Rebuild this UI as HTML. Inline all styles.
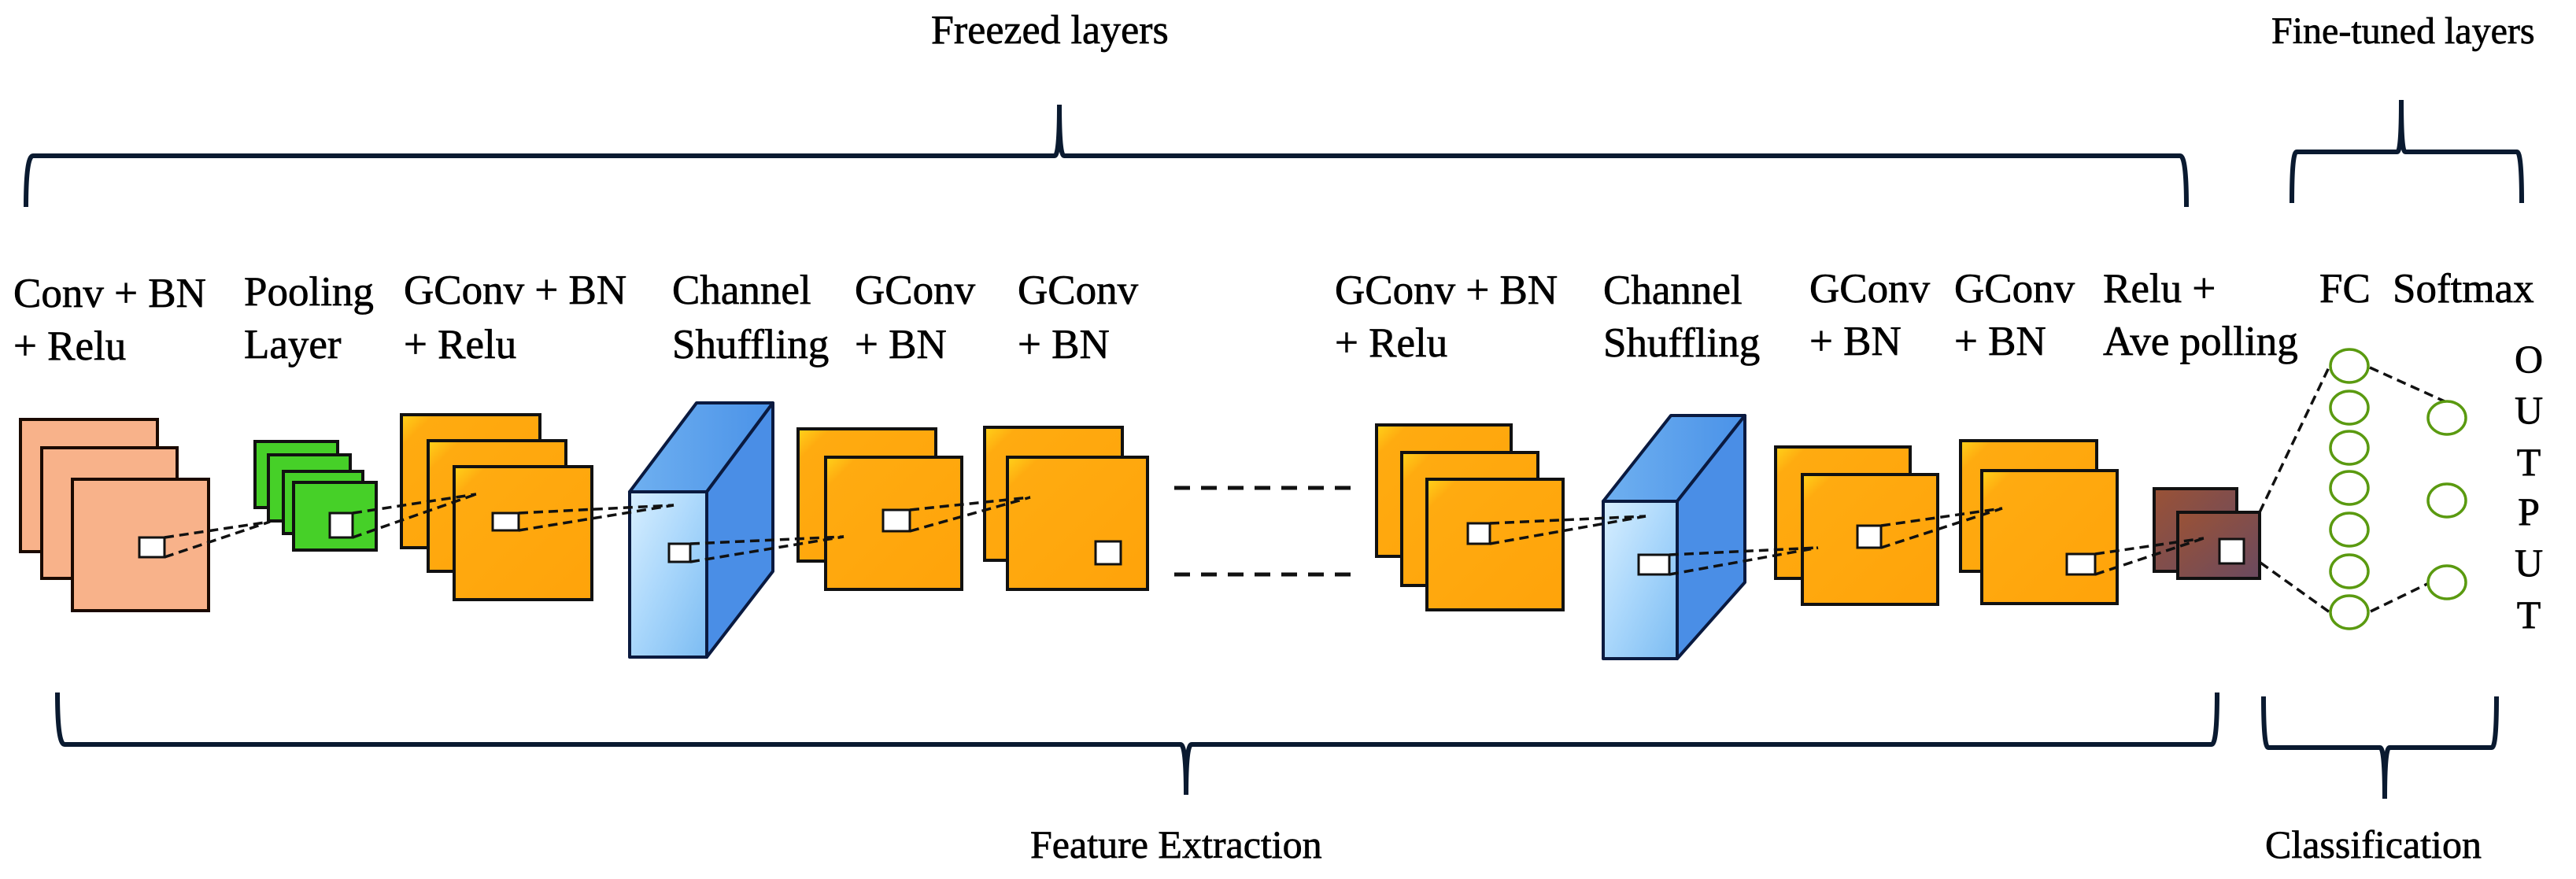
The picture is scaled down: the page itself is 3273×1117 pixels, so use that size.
<!DOCTYPE html>
<html><head><meta charset="utf-8"><style>
html,body{margin:0;padding:0;background:#fff;}
svg{display:block;}
text{font-family:"Liberation Serif",serif;fill:#000;stroke:#000;stroke-width:0.7px;}
</style></head><body>
<svg width="3273" height="1117" viewBox="0 0 3273 1117" xmlns="http://www.w3.org/2000/svg">
<defs>
<linearGradient id="or" x1="0" y1="0" x2="1" y2="1"><stop offset="0" stop-color="#ffd21a"/><stop offset="0.12" stop-color="#ffab10"/><stop offset="1" stop-color="#ffa30a"/></linearGradient>
<linearGradient id="bf" x1="0" y1="0" x2="1" y2="1"><stop offset="0" stop-color="#d8efff"/><stop offset="0.5" stop-color="#a8d6fb"/><stop offset="1" stop-color="#7cbcf2"/></linearGradient>
<linearGradient id="bt" x1="0" y1="0" x2="1" y2="0"><stop offset="0" stop-color="#6fb0f0"/><stop offset="1" stop-color="#4a92e8"/></linearGradient>
<linearGradient id="br" x1="0" y1="0" x2="1" y2="1"><stop offset="0" stop-color="#9a5236"/><stop offset="1" stop-color="#6a4a60"/></linearGradient>
</defs>

<!-- labels -->
<g font-size="53">
<text x="1183" y="55" font-size="52">Freezed layers</text>
<text x="2886" y="55" font-size="48">Fine-tuned layers</text>
<text x="17" y="390">Conv + BN</text><text x="17" y="457">+ Relu</text>
<text x="310" y="388">Pooling</text><text x="310" y="455">Layer</text>
<text x="513" y="386">GConv + BN</text><text x="513" y="455">+ Relu</text>
<text x="854" y="386">Channel</text><text x="854" y="455">Shuffling</text>
<text x="1086" y="386">GConv</text><text x="1086" y="455">+ BN</text>
<text x="1293" y="386">GConv</text><text x="1293" y="455">+ BN</text>
<text x="1696" y="386">GConv + BN</text><text x="1696" y="453">+ Relu</text>
<text x="2037" y="386">Channel</text><text x="2037" y="453">Shuffling</text>
<text x="2299" y="384">GConv</text><text x="2299" y="451">+ BN</text>
<text x="2483" y="384">GConv</text><text x="2483" y="451">+ BN</text>
<text x="2672" y="384">Relu +</text><text x="2672" y="451">Ave polling</text>
<text x="2947" y="384">FC</text><text x="3040" y="384">Softmax</text>
<g text-anchor="middle" font-size="50">
<text x="3213" y="473">O</text><text x="3213" y="538">U</text><text x="3213" y="604">T</text>
<text x="3213" y="667">P</text><text x="3213" y="732">U</text><text x="3213" y="798">T</text>
</g>
<text x="1309" y="1090" font-size="50">Feature Extraction</text>
<text x="2878" y="1090" font-size="50">Classification</text>
</g>

<!-- brackets -->
<g fill="none" stroke="#0a1a30">
<path d="M33 263 Q33 198 42 198 L1340 198 Q1346 198 1346 133 Q1346 198 1352 198 L2770 198 Q2778 198 2778 263" stroke-width="6"/>
<path d="M2912 258 Q2912 193 2918 193 L3046 193 Q3051 193 3051 127 Q3051 193 3056 193 L3198 193 Q3204 193 3204 258" stroke-width="6"/>
<path d="M73 880 Q73 946 82 946 L1500 946 Q1507 946 1507 1010 Q1507 946 1514 946 L2810 946 Q2817 946 2817 880" stroke-width="6"/>
<path d="M2876 885 Q2876 950 2882 950 L3024 950 Q3030 950 3030 1015 Q3030 950 3036 950 L3166 950 Q3172 950 3172 885" stroke-width="6"/>
</g>

<!-- peach -->
<g stroke="#1a0a00" stroke-width="4" fill="#f8b28a">
<rect x="26" y="533" width="174" height="168"/>
<rect x="53" y="569" width="172" height="166"/>
<rect x="92" y="609" width="173" height="167"/>
</g>
<!-- green -->
<g stroke="#111" stroke-width="4" fill="#46d028">
<rect x="324" y="561" width="105" height="84"/>
<rect x="341" y="578" width="104" height="84"/>
<rect x="360" y="599" width="101" height="79"/>
<rect x="373" y="613" width="105" height="86"/>
</g>
<!-- orange -->
<g stroke="#111" stroke-width="4" fill="url(#or)">
<rect x="510" y="527" width="176" height="169"/>
<rect x="544" y="560" width="175" height="166"/>
<rect x="577" y="593" width="175" height="169"/>
<rect x="1014" y="545" width="175" height="168"/>
<rect x="1049" y="581" width="173" height="168"/>
<rect x="1251" y="543" width="175" height="169"/>
<rect x="1280" y="581" width="178" height="168"/>
<rect x="1749" y="540" width="171" height="167"/>
<rect x="1781" y="575" width="173" height="169"/>
<rect x="1813" y="609" width="173" height="166"/>
<rect x="2256" y="568" width="171" height="167"/>
<rect x="2290" y="603" width="172" height="165"/>
<rect x="2491" y="560" width="173" height="166"/>
<rect x="2518" y="598" width="172" height="169"/>
</g>
<!-- blue boxes -->
<g stroke="#0a1a40" stroke-width="4" stroke-linejoin="round">
<polygon points="800,625 898,625 982,512 885,512" fill="url(#bt)"/>
<polygon points="898,625 982,512 982,726 898,835" fill="#4a8ee6"/>
<rect x="800" y="625" width="98" height="210" fill="url(#bf)"/>
<polygon points="2037,637 2131,637 2217,528 2123,528" fill="url(#bt)"/>
<polygon points="2131,637 2217,528 2217,740 2131,837" fill="#4a8ee6"/>
<rect x="2037" y="637" width="94" height="200" fill="url(#bf)"/>
</g>
<!-- brown -->
<g stroke="#111" stroke-width="4" fill="url(#br)">
<rect x="2737" y="621" width="105" height="105"/>
<rect x="2767" y="651" width="104" height="84"/>
</g>

<!-- white squares -->
<g fill="#fff" stroke="#111" stroke-width="3">
<rect x="177" y="683" width="32" height="25"/>
<rect x="419" y="652" width="29" height="31"/>
<rect x="626" y="652" width="33" height="22"/>
<rect x="850" y="691" width="27" height="23"/>
<rect x="1122" y="648" width="34" height="27"/>
<rect x="1392" y="688" width="32" height="29"/>
<rect x="1865" y="665" width="28" height="26"/>
<rect x="2082" y="705" width="39" height="25"/>
<rect x="2360" y="668" width="30" height="28"/>
<rect x="2626" y="704" width="36" height="26"/>
<rect x="2820" y="685" width="31" height="31"/>
</g>

<!-- dashed connectors -->
<g stroke="#111" stroke-width="3.5" stroke-dasharray="12,7" fill="none">
<path d="M209 683 L343 663 M209 708 L343 663"/>
<path d="M448 652 L605 628 M448 683 L605 628"/>
<path d="M659 652 L856 642 M659 674 L856 642"/>
<path d="M877 691 L1072 682 M877 714 L1072 682"/>
<path d="M1156 648 L1309 632 M1156 675 L1309 632"/>
<path d="M1893 665 L2091 656 M1893 691 L2091 656"/>
<path d="M2121 705 L2310 696 M2121 730 L2310 696"/>
<path d="M2390 668 L2544 646 M2390 696 L2544 646"/>
<path d="M2662 704 L2800 684 M2662 730 L2800 684"/>
<path d="M2871 651 L2959 467 M2872 715 L2960 778"/>
<path d="M3011 467 L3106 510 M3012 777 L3084 742"/>
<path d="M1492 620 L1725 620 M1492 730 L1725 730" stroke-width="5" stroke-dasharray="20,14"/>
</g>

<!-- circles -->
<g fill="#fff" stroke="#5a9a10" stroke-width="3.5">
<ellipse cx="2985" cy="465" rx="24" ry="21"/>
<ellipse cx="2985" cy="518" rx="24" ry="21"/>
<ellipse cx="2985" cy="569" rx="24" ry="21"/>
<ellipse cx="2985" cy="620" rx="24" ry="21"/>
<ellipse cx="2985" cy="673" rx="24" ry="21"/>
<ellipse cx="2985" cy="726" rx="24" ry="21"/>
<ellipse cx="2985" cy="778" rx="24" ry="21"/>
<ellipse cx="3109" cy="531" rx="24" ry="21"/>
<ellipse cx="3109" cy="636" rx="24" ry="21"/>
<ellipse cx="3109" cy="740" rx="24" ry="21"/>
</g>
</svg>
</body></html>
